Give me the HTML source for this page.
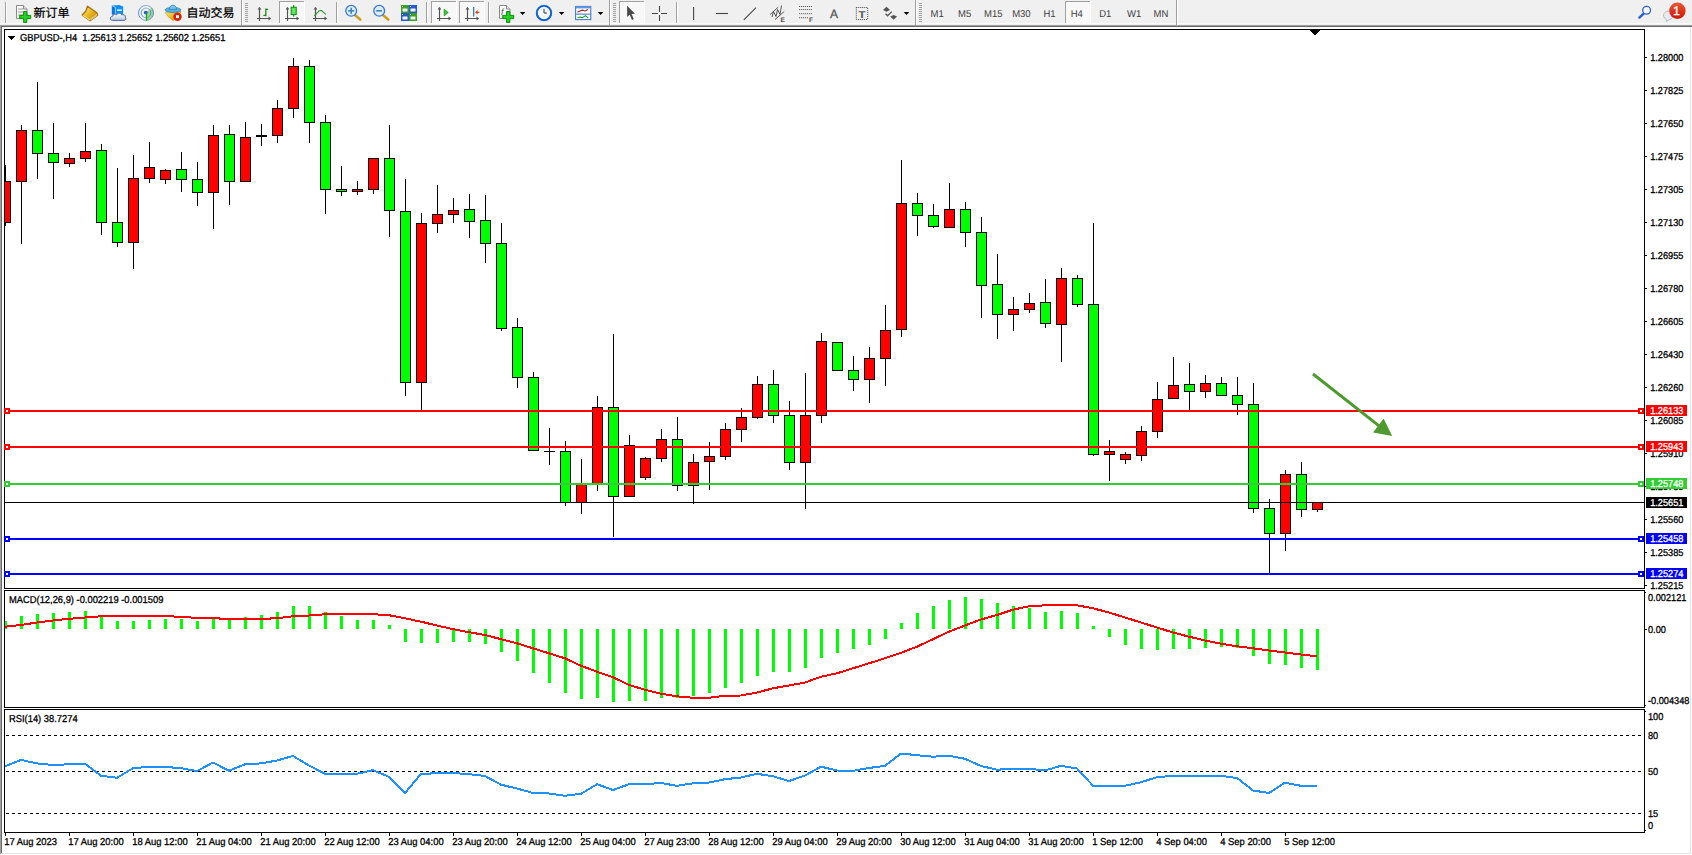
<!DOCTYPE html>
<html><head><meta charset="utf-8"><title>GBPUSD-,H4</title>
<style>
html,body{margin:0;padding:0;background:#fff;overflow:hidden}
svg{display:block;font-family:'Liberation Sans', 'Noto Sans CJK SC', sans-serif}
</style></head>
<body>
<svg width="1692" height="855" viewBox="0 0 1692 855" shape-rendering="crispEdges" text-rendering="geometricPrecision" font-family='"Liberation Sans", "Noto Sans CJK SC", sans-serif'>
<rect x="0" y="0" width="1692" height="855" fill="#fff"/>
<rect x="0" y="0" width="1692" height="25" fill="#f0f0f0"/>
<rect x="0" y="23" width="1692" height="1" fill="#fbfbfb"/>
<rect x="0" y="25" width="1692" height="1" fill="#a0a0a0"/>
<rect x="0" y="26" width="1692" height="1" fill="#696969"/>
<rect x="0" y="26" width="1" height="828" fill="#a0a0a0"/>
<rect x="1" y="27" width="1" height="826" fill="#696969"/>
<rect x="1690" y="27" width="1" height="827" fill="#e3e3e3"/>
<rect x="1" y="853" width="1690" height="1" fill="#e3e3e3"/>
<rect x="4" y="29" width="1641" height="1" fill="#000"/>
<rect x="4" y="588" width="1641" height="1" fill="#000"/>
<rect x="4" y="29" width="1" height="560" fill="#000"/>
<rect x="1644" y="29" width="1" height="560" fill="#000"/>
<rect x="4" y="590" width="1641" height="1" fill="#000"/>
<rect x="4" y="707" width="1641" height="1" fill="#000"/>
<rect x="4" y="590" width="1" height="118" fill="#000"/>
<rect x="1644" y="590" width="1" height="118" fill="#000"/>
<rect x="4" y="709" width="1641" height="1" fill="#000"/>
<rect x="4" y="832" width="1641" height="1" fill="#000"/>
<rect x="4" y="709" width="1" height="124" fill="#000"/>
<rect x="1644" y="709" width="1" height="124" fill="#000"/>
<clipPath id="cm"><rect x="5" y="30" width="1639" height="558"/></clipPath>
<g clip-path="url(#cm)">
<rect x="5" y="165" width="1" height="61" fill="#000"/>
<rect x="0" y="181" width="11" height="42" fill="#000"/>
<rect x="1" y="182" width="9" height="40" fill="#ff0000"/>
<rect x="21" y="125" width="1" height="119" fill="#000"/>
<rect x="16" y="130" width="11" height="52" fill="#000"/>
<rect x="17" y="131" width="9" height="50" fill="#ff0000"/>
<rect x="37" y="82" width="1" height="97" fill="#000"/>
<rect x="32" y="130" width="11" height="24" fill="#000"/>
<rect x="33" y="131" width="9" height="22" fill="#00ff00"/>
<rect x="53" y="123" width="1" height="76" fill="#000"/>
<rect x="48" y="153" width="11" height="10" fill="#000"/>
<rect x="49" y="154" width="9" height="8" fill="#00ff00"/>
<rect x="69" y="153" width="1" height="14" fill="#000"/>
<rect x="64" y="158" width="11" height="6" fill="#000"/>
<rect x="65" y="159" width="9" height="4" fill="#ff0000"/>
<rect x="85" y="123" width="1" height="39" fill="#000"/>
<rect x="80" y="151" width="11" height="8" fill="#000"/>
<rect x="81" y="152" width="9" height="6" fill="#ff0000"/>
<rect x="101" y="144" width="1" height="91" fill="#000"/>
<rect x="96" y="150" width="11" height="73" fill="#000"/>
<rect x="97" y="151" width="9" height="71" fill="#00ff00"/>
<rect x="117" y="168" width="1" height="79" fill="#000"/>
<rect x="112" y="222" width="11" height="21" fill="#000"/>
<rect x="113" y="223" width="9" height="19" fill="#00ff00"/>
<rect x="133" y="155" width="1" height="114" fill="#000"/>
<rect x="128" y="178" width="11" height="65" fill="#000"/>
<rect x="129" y="179" width="9" height="63" fill="#ff0000"/>
<rect x="149" y="142" width="1" height="41" fill="#000"/>
<rect x="144" y="167" width="11" height="12" fill="#000"/>
<rect x="145" y="168" width="9" height="10" fill="#ff0000"/>
<rect x="165" y="169" width="1" height="15" fill="#000"/>
<rect x="160" y="170" width="11" height="10" fill="#000"/>
<rect x="161" y="171" width="9" height="8" fill="#ff0000"/>
<rect x="181" y="152" width="1" height="40" fill="#000"/>
<rect x="176" y="169" width="11" height="11" fill="#000"/>
<rect x="177" y="170" width="9" height="9" fill="#00ff00"/>
<rect x="197" y="162" width="1" height="44" fill="#000"/>
<rect x="192" y="179" width="11" height="14" fill="#000"/>
<rect x="193" y="180" width="9" height="12" fill="#00ff00"/>
<rect x="213" y="125" width="1" height="104" fill="#000"/>
<rect x="208" y="135" width="11" height="58" fill="#000"/>
<rect x="209" y="136" width="9" height="56" fill="#ff0000"/>
<rect x="229" y="125" width="1" height="80" fill="#000"/>
<rect x="224" y="134" width="11" height="48" fill="#000"/>
<rect x="225" y="135" width="9" height="46" fill="#00ff00"/>
<rect x="245" y="122" width="1" height="60" fill="#000"/>
<rect x="240" y="137" width="11" height="45" fill="#000"/>
<rect x="241" y="138" width="9" height="43" fill="#ff0000"/>
<rect x="261" y="124" width="1" height="22" fill="#000"/>
<rect x="256" y="135" width="11" height="2" fill="#000"/>
<rect x="277" y="100" width="1" height="43" fill="#000"/>
<rect x="272" y="108" width="11" height="28" fill="#000"/>
<rect x="273" y="109" width="9" height="26" fill="#ff0000"/>
<rect x="293" y="58" width="1" height="60" fill="#000"/>
<rect x="288" y="66" width="11" height="43" fill="#000"/>
<rect x="289" y="67" width="9" height="41" fill="#ff0000"/>
<rect x="309" y="60" width="1" height="83" fill="#000"/>
<rect x="304" y="66" width="11" height="57" fill="#000"/>
<rect x="305" y="67" width="9" height="55" fill="#00ff00"/>
<rect x="325" y="115" width="1" height="99" fill="#000"/>
<rect x="320" y="122" width="11" height="68" fill="#000"/>
<rect x="321" y="123" width="9" height="66" fill="#00ff00"/>
<rect x="341" y="166" width="1" height="30" fill="#000"/>
<rect x="336" y="189" width="11" height="3" fill="#000"/>
<rect x="337" y="190" width="9" height="1" fill="#00ff00"/>
<rect x="357" y="181" width="1" height="14" fill="#000"/>
<rect x="352" y="189" width="11" height="3" fill="#000"/>
<rect x="353" y="190" width="9" height="1" fill="#ff0000"/>
<rect x="373" y="158" width="1" height="36" fill="#000"/>
<rect x="368" y="158" width="11" height="32" fill="#000"/>
<rect x="369" y="159" width="9" height="30" fill="#ff0000"/>
<rect x="389" y="125" width="1" height="112" fill="#000"/>
<rect x="384" y="158" width="11" height="53" fill="#000"/>
<rect x="385" y="159" width="9" height="51" fill="#00ff00"/>
<rect x="405" y="179" width="1" height="217" fill="#000"/>
<rect x="400" y="211" width="11" height="172" fill="#000"/>
<rect x="401" y="212" width="9" height="170" fill="#00ff00"/>
<rect x="421" y="213" width="1" height="198" fill="#000"/>
<rect x="416" y="223" width="11" height="160" fill="#000"/>
<rect x="417" y="224" width="9" height="158" fill="#ff0000"/>
<rect x="437" y="185" width="1" height="48" fill="#000"/>
<rect x="432" y="214" width="11" height="10" fill="#000"/>
<rect x="433" y="215" width="9" height="8" fill="#ff0000"/>
<rect x="453" y="198" width="1" height="25" fill="#000"/>
<rect x="448" y="210" width="11" height="5" fill="#000"/>
<rect x="449" y="211" width="9" height="3" fill="#ff0000"/>
<rect x="469" y="194" width="1" height="44" fill="#000"/>
<rect x="464" y="209" width="11" height="13" fill="#000"/>
<rect x="465" y="210" width="9" height="11" fill="#00ff00"/>
<rect x="485" y="195" width="1" height="68" fill="#000"/>
<rect x="480" y="220" width="11" height="24" fill="#000"/>
<rect x="481" y="221" width="9" height="22" fill="#00ff00"/>
<rect x="501" y="223" width="1" height="108" fill="#000"/>
<rect x="496" y="243" width="11" height="86" fill="#000"/>
<rect x="497" y="244" width="9" height="84" fill="#00ff00"/>
<rect x="517" y="318" width="1" height="70" fill="#000"/>
<rect x="512" y="327" width="11" height="51" fill="#000"/>
<rect x="513" y="328" width="9" height="49" fill="#00ff00"/>
<rect x="533" y="372" width="1" height="79" fill="#000"/>
<rect x="528" y="377" width="11" height="74" fill="#000"/>
<rect x="529" y="378" width="9" height="72" fill="#00ff00"/>
<rect x="549" y="428" width="1" height="37" fill="#000"/>
<rect x="544" y="451" width="11" height="1" fill="#000"/>
<rect x="565" y="441" width="1" height="65" fill="#000"/>
<rect x="560" y="451" width="11" height="52" fill="#000"/>
<rect x="561" y="452" width="9" height="50" fill="#00ff00"/>
<rect x="581" y="459" width="1" height="55" fill="#000"/>
<rect x="576" y="484" width="11" height="19" fill="#000"/>
<rect x="577" y="485" width="9" height="17" fill="#ff0000"/>
<rect x="597" y="396" width="1" height="95" fill="#000"/>
<rect x="592" y="407" width="11" height="77" fill="#000"/>
<rect x="593" y="408" width="9" height="75" fill="#ff0000"/>
<rect x="613" y="334" width="1" height="203" fill="#000"/>
<rect x="608" y="407" width="11" height="90" fill="#000"/>
<rect x="609" y="408" width="9" height="88" fill="#00ff00"/>
<rect x="629" y="435" width="1" height="62" fill="#000"/>
<rect x="624" y="445" width="11" height="52" fill="#000"/>
<rect x="625" y="446" width="9" height="50" fill="#ff0000"/>
<rect x="645" y="457" width="1" height="23" fill="#000"/>
<rect x="640" y="458" width="11" height="20" fill="#000"/>
<rect x="641" y="459" width="9" height="18" fill="#ff0000"/>
<rect x="661" y="429" width="1" height="33" fill="#000"/>
<rect x="656" y="439" width="11" height="20" fill="#000"/>
<rect x="657" y="440" width="9" height="18" fill="#ff0000"/>
<rect x="677" y="417" width="1" height="74" fill="#000"/>
<rect x="672" y="439" width="11" height="47" fill="#000"/>
<rect x="673" y="440" width="9" height="45" fill="#00ff00"/>
<rect x="693" y="454" width="1" height="50" fill="#000"/>
<rect x="688" y="462" width="11" height="24" fill="#000"/>
<rect x="689" y="463" width="9" height="22" fill="#ff0000"/>
<rect x="709" y="442" width="1" height="48" fill="#000"/>
<rect x="704" y="456" width="11" height="6" fill="#000"/>
<rect x="705" y="457" width="9" height="4" fill="#ff0000"/>
<rect x="725" y="423" width="1" height="37" fill="#000"/>
<rect x="720" y="429" width="11" height="28" fill="#000"/>
<rect x="721" y="430" width="9" height="26" fill="#ff0000"/>
<rect x="741" y="408" width="1" height="34" fill="#000"/>
<rect x="736" y="417" width="11" height="13" fill="#000"/>
<rect x="737" y="418" width="9" height="11" fill="#ff0000"/>
<rect x="757" y="376" width="1" height="43" fill="#000"/>
<rect x="752" y="384" width="11" height="34" fill="#000"/>
<rect x="753" y="385" width="9" height="32" fill="#ff0000"/>
<rect x="773" y="370" width="1" height="53" fill="#000"/>
<rect x="768" y="384" width="11" height="32" fill="#000"/>
<rect x="769" y="385" width="9" height="30" fill="#00ff00"/>
<rect x="789" y="401" width="1" height="69" fill="#000"/>
<rect x="784" y="415" width="11" height="48" fill="#000"/>
<rect x="785" y="416" width="9" height="46" fill="#00ff00"/>
<rect x="805" y="373" width="1" height="136" fill="#000"/>
<rect x="800" y="415" width="11" height="48" fill="#000"/>
<rect x="801" y="416" width="9" height="46" fill="#ff0000"/>
<rect x="821" y="333" width="1" height="90" fill="#000"/>
<rect x="816" y="341" width="11" height="75" fill="#000"/>
<rect x="817" y="342" width="9" height="73" fill="#ff0000"/>
<rect x="837" y="342" width="1" height="29" fill="#000"/>
<rect x="832" y="342" width="11" height="29" fill="#000"/>
<rect x="833" y="343" width="9" height="27" fill="#00ff00"/>
<rect x="853" y="356" width="1" height="35" fill="#000"/>
<rect x="848" y="370" width="11" height="10" fill="#000"/>
<rect x="849" y="371" width="9" height="8" fill="#00ff00"/>
<rect x="869" y="347" width="1" height="56" fill="#000"/>
<rect x="864" y="358" width="11" height="22" fill="#000"/>
<rect x="865" y="359" width="9" height="20" fill="#ff0000"/>
<rect x="885" y="305" width="1" height="81" fill="#000"/>
<rect x="880" y="330" width="11" height="29" fill="#000"/>
<rect x="881" y="331" width="9" height="27" fill="#ff0000"/>
<rect x="901" y="160" width="1" height="177" fill="#000"/>
<rect x="896" y="203" width="11" height="127" fill="#000"/>
<rect x="897" y="204" width="9" height="125" fill="#ff0000"/>
<rect x="917" y="193" width="1" height="43" fill="#000"/>
<rect x="912" y="203" width="11" height="13" fill="#000"/>
<rect x="913" y="204" width="9" height="11" fill="#00ff00"/>
<rect x="933" y="204" width="1" height="24" fill="#000"/>
<rect x="928" y="215" width="11" height="12" fill="#000"/>
<rect x="929" y="216" width="9" height="10" fill="#00ff00"/>
<rect x="949" y="183" width="1" height="45" fill="#000"/>
<rect x="944" y="209" width="11" height="19" fill="#000"/>
<rect x="945" y="210" width="9" height="17" fill="#ff0000"/>
<rect x="965" y="202" width="1" height="45" fill="#000"/>
<rect x="960" y="209" width="11" height="24" fill="#000"/>
<rect x="961" y="210" width="9" height="22" fill="#00ff00"/>
<rect x="981" y="217" width="1" height="101" fill="#000"/>
<rect x="976" y="232" width="11" height="54" fill="#000"/>
<rect x="977" y="233" width="9" height="52" fill="#00ff00"/>
<rect x="997" y="254" width="1" height="85" fill="#000"/>
<rect x="992" y="284" width="11" height="31" fill="#000"/>
<rect x="993" y="285" width="9" height="29" fill="#00ff00"/>
<rect x="1013" y="297" width="1" height="34" fill="#000"/>
<rect x="1008" y="309" width="11" height="6" fill="#000"/>
<rect x="1009" y="310" width="9" height="4" fill="#ff0000"/>
<rect x="1029" y="293" width="1" height="20" fill="#000"/>
<rect x="1024" y="303" width="11" height="7" fill="#000"/>
<rect x="1025" y="304" width="9" height="5" fill="#ff0000"/>
<rect x="1045" y="279" width="1" height="49" fill="#000"/>
<rect x="1040" y="302" width="11" height="22" fill="#000"/>
<rect x="1041" y="303" width="9" height="20" fill="#00ff00"/>
<rect x="1061" y="268" width="1" height="94" fill="#000"/>
<rect x="1056" y="278" width="11" height="47" fill="#000"/>
<rect x="1057" y="279" width="9" height="45" fill="#ff0000"/>
<rect x="1077" y="275" width="1" height="32" fill="#000"/>
<rect x="1072" y="278" width="11" height="27" fill="#000"/>
<rect x="1073" y="279" width="9" height="25" fill="#00ff00"/>
<rect x="1093" y="223" width="1" height="233" fill="#000"/>
<rect x="1088" y="304" width="11" height="151" fill="#000"/>
<rect x="1089" y="305" width="9" height="149" fill="#00ff00"/>
<rect x="1109" y="440" width="1" height="41" fill="#000"/>
<rect x="1104" y="451" width="11" height="4" fill="#000"/>
<rect x="1105" y="452" width="9" height="2" fill="#ff0000"/>
<rect x="1125" y="452" width="1" height="12" fill="#000"/>
<rect x="1120" y="454" width="11" height="6" fill="#000"/>
<rect x="1121" y="455" width="9" height="4" fill="#ff0000"/>
<rect x="1141" y="426" width="1" height="35" fill="#000"/>
<rect x="1136" y="431" width="11" height="25" fill="#000"/>
<rect x="1137" y="432" width="9" height="23" fill="#ff0000"/>
<rect x="1157" y="382" width="1" height="56" fill="#000"/>
<rect x="1152" y="399" width="11" height="33" fill="#000"/>
<rect x="1153" y="400" width="9" height="31" fill="#ff0000"/>
<rect x="1173" y="357" width="1" height="42" fill="#000"/>
<rect x="1168" y="385" width="11" height="14" fill="#000"/>
<rect x="1169" y="386" width="9" height="12" fill="#ff0000"/>
<rect x="1189" y="363" width="1" height="48" fill="#000"/>
<rect x="1184" y="384" width="11" height="8" fill="#000"/>
<rect x="1185" y="385" width="9" height="6" fill="#00ff00"/>
<rect x="1205" y="375" width="1" height="23" fill="#000"/>
<rect x="1200" y="383" width="11" height="9" fill="#000"/>
<rect x="1201" y="384" width="9" height="7" fill="#ff0000"/>
<rect x="1221" y="377" width="1" height="19" fill="#000"/>
<rect x="1216" y="383" width="11" height="13" fill="#000"/>
<rect x="1217" y="384" width="9" height="11" fill="#00ff00"/>
<rect x="1237" y="377" width="1" height="38" fill="#000"/>
<rect x="1232" y="395" width="11" height="10" fill="#000"/>
<rect x="1233" y="396" width="9" height="8" fill="#00ff00"/>
<rect x="1253" y="383" width="1" height="130" fill="#000"/>
<rect x="1248" y="404" width="11" height="105" fill="#000"/>
<rect x="1249" y="405" width="9" height="103" fill="#00ff00"/>
<rect x="1269" y="499" width="1" height="75" fill="#000"/>
<rect x="1264" y="508" width="11" height="26" fill="#000"/>
<rect x="1265" y="509" width="9" height="24" fill="#00ff00"/>
<rect x="1285" y="470" width="1" height="81" fill="#000"/>
<rect x="1280" y="474" width="11" height="60" fill="#000"/>
<rect x="1281" y="475" width="9" height="58" fill="#ff0000"/>
<rect x="1301" y="462" width="1" height="55" fill="#000"/>
<rect x="1296" y="474" width="11" height="36" fill="#000"/>
<rect x="1297" y="475" width="9" height="34" fill="#00ff00"/>
<rect x="1317" y="502" width="1" height="10" fill="#000"/>
<rect x="1312" y="502" width="11" height="8" fill="#000"/>
<rect x="1313" y="503" width="9" height="6" fill="#ff0000"/>
</g>
<rect x="5" y="410" width="1639" height="2" fill="#ff0000"/>
<rect x="4" y="408" width="6" height="6" fill="#ff0000"/>
<rect x="6" y="410" width="2" height="2" fill="#fff"/>
<rect x="1638" y="408" width="6" height="6" fill="#ff0000"/>
<rect x="1640" y="410" width="2" height="2" fill="#fff"/>
<rect x="5" y="446" width="1639" height="2" fill="#ff0000"/>
<rect x="4" y="444" width="6" height="6" fill="#ff0000"/>
<rect x="6" y="446" width="2" height="2" fill="#fff"/>
<rect x="1638" y="444" width="6" height="6" fill="#ff0000"/>
<rect x="1640" y="446" width="2" height="2" fill="#fff"/>
<rect x="5" y="483" width="1639" height="2" fill="#32cd32"/>
<rect x="4" y="481" width="6" height="6" fill="#32cd32"/>
<rect x="6" y="483" width="2" height="2" fill="#fff"/>
<rect x="1638" y="481" width="6" height="6" fill="#32cd32"/>
<rect x="1640" y="483" width="2" height="2" fill="#fff"/>
<rect x="5" y="502" width="1639" height="1" fill="#000"/>
<rect x="5" y="538" width="1639" height="2" fill="#0000ff"/>
<rect x="4" y="536" width="6" height="6" fill="#0000ff"/>
<rect x="6" y="538" width="2" height="2" fill="#fff"/>
<rect x="1638" y="536" width="6" height="6" fill="#0000ff"/>
<rect x="1640" y="538" width="2" height="2" fill="#fff"/>
<rect x="5" y="573" width="1639" height="2" fill="#0000ff"/>
<rect x="4" y="571" width="6" height="6" fill="#0000ff"/>
<rect x="6" y="573" width="2" height="2" fill="#fff"/>
<rect x="1638" y="571" width="6" height="6" fill="#0000ff"/>
<rect x="1640" y="573" width="2" height="2" fill="#fff"/>
<g shape-rendering="geometricPrecision">
<line x1="1313" y1="374" x2="1380" y2="426.6" stroke="#4e9a2e" stroke-width="3"/>
<polygon points="1392.2,436.1 1383.6,418.6 1373,432.6" fill="#4e9a2e"/>
</g>
<polygon points="1309,30 1320,30 1314.5,35.5" fill="#000"/>
<polygon points="8,36 15,36 11.5,40" fill="#000"/>
<rect x="1645" y="57" width="2" height="1" fill="#000"/>
<text transform="translate(1650.2,61) scale(0.92,1)" font-size="10" fill="#000" stroke="#000" stroke-width="0.3" text-anchor="start">1.28000</text>
<rect x="1645" y="90" width="2" height="1" fill="#000"/>
<text transform="translate(1650.2,94) scale(0.92,1)" font-size="10" fill="#000" stroke="#000" stroke-width="0.3" text-anchor="start">1.27825</text>
<rect x="1645" y="123" width="2" height="1" fill="#000"/>
<text transform="translate(1650.2,127) scale(0.92,1)" font-size="10" fill="#000" stroke="#000" stroke-width="0.3" text-anchor="start">1.27650</text>
<rect x="1645" y="156" width="2" height="1" fill="#000"/>
<text transform="translate(1650.2,160) scale(0.92,1)" font-size="10" fill="#000" stroke="#000" stroke-width="0.3" text-anchor="start">1.27475</text>
<rect x="1645" y="189" width="2" height="1" fill="#000"/>
<text transform="translate(1650.2,193) scale(0.92,1)" font-size="10" fill="#000" stroke="#000" stroke-width="0.3" text-anchor="start">1.27305</text>
<rect x="1645" y="222" width="2" height="1" fill="#000"/>
<text transform="translate(1650.2,226) scale(0.92,1)" font-size="10" fill="#000" stroke="#000" stroke-width="0.3" text-anchor="start">1.27130</text>
<rect x="1645" y="255" width="2" height="1" fill="#000"/>
<text transform="translate(1650.2,259) scale(0.92,1)" font-size="10" fill="#000" stroke="#000" stroke-width="0.3" text-anchor="start">1.26955</text>
<rect x="1645" y="288" width="2" height="1" fill="#000"/>
<text transform="translate(1650.2,292) scale(0.92,1)" font-size="10" fill="#000" stroke="#000" stroke-width="0.3" text-anchor="start">1.26780</text>
<rect x="1645" y="321" width="2" height="1" fill="#000"/>
<text transform="translate(1650.2,325) scale(0.92,1)" font-size="10" fill="#000" stroke="#000" stroke-width="0.3" text-anchor="start">1.26605</text>
<rect x="1645" y="354" width="2" height="1" fill="#000"/>
<text transform="translate(1650.2,358) scale(0.92,1)" font-size="10" fill="#000" stroke="#000" stroke-width="0.3" text-anchor="start">1.26430</text>
<rect x="1645" y="387" width="2" height="1" fill="#000"/>
<text transform="translate(1650.2,391) scale(0.92,1)" font-size="10" fill="#000" stroke="#000" stroke-width="0.3" text-anchor="start">1.26260</text>
<rect x="1645" y="420" width="2" height="1" fill="#000"/>
<text transform="translate(1650.2,424) scale(0.92,1)" font-size="10" fill="#000" stroke="#000" stroke-width="0.3" text-anchor="start">1.26085</text>
<rect x="1645" y="453" width="2" height="1" fill="#000"/>
<text transform="translate(1650.2,457) scale(0.92,1)" font-size="10" fill="#000" stroke="#000" stroke-width="0.3" text-anchor="start">1.25910</text>
<rect x="1645" y="486" width="2" height="1" fill="#000"/>
<text transform="translate(1650.2,490) scale(0.92,1)" font-size="10" fill="#000" stroke="#000" stroke-width="0.3" text-anchor="start">1.25735</text>
<rect x="1645" y="519" width="2" height="1" fill="#000"/>
<text transform="translate(1650.2,523) scale(0.92,1)" font-size="10" fill="#000" stroke="#000" stroke-width="0.3" text-anchor="start">1.25560</text>
<rect x="1645" y="552" width="2" height="1" fill="#000"/>
<text transform="translate(1650.2,556) scale(0.92,1)" font-size="10" fill="#000" stroke="#000" stroke-width="0.3" text-anchor="start">1.25385</text>
<rect x="1645" y="585" width="2" height="1" fill="#000"/>
<text transform="translate(1650.2,589) scale(0.92,1)" font-size="10" fill="#000" stroke="#000" stroke-width="0.3" text-anchor="start">1.25215</text>
<rect x="1646" y="405" width="41" height="11" fill="#ff0000"/>
<text transform="translate(1650.2,414) scale(0.92,1)" font-size="10" fill="#fff" stroke="#fff" stroke-width="0.3" text-anchor="start">1.26133</text>
<rect x="1646" y="441" width="41" height="11" fill="#ff0000"/>
<text transform="translate(1650.2,450) scale(0.92,1)" font-size="10" fill="#fff" stroke="#fff" stroke-width="0.3" text-anchor="start">1.25943</text>
<rect x="1646" y="478" width="41" height="11" fill="#32cd32"/>
<text transform="translate(1650.2,487) scale(0.92,1)" font-size="10" fill="#fff" stroke="#fff" stroke-width="0.3" text-anchor="start">1.25748</text>
<rect x="1646" y="497" width="41" height="11" fill="#000000"/>
<text transform="translate(1650.2,506) scale(0.92,1)" font-size="10" fill="#fff" stroke="#fff" stroke-width="0.3" text-anchor="start">1.25651</text>
<rect x="1646" y="533" width="41" height="11" fill="#0000ff"/>
<text transform="translate(1650.2,542) scale(0.92,1)" font-size="10" fill="#fff" stroke="#fff" stroke-width="0.3" text-anchor="start">1.25458</text>
<rect x="1646" y="568" width="41" height="11" fill="#0000ff"/>
<text transform="translate(1650.2,577) scale(0.92,1)" font-size="10" fill="#fff" stroke="#fff" stroke-width="0.3" text-anchor="start">1.25274</text>
<text transform="translate(20,41) scale(0.935,1)" font-size="10" fill="#000" stroke="#000" stroke-width="0.3" text-anchor="start">GBPUSD-,H4&#160; 1.25613 1.25652 1.25602 1.25651</text>
<text transform="translate(9,603) scale(0.935,1)" font-size="10" fill="#000" stroke="#000" stroke-width="0.3" text-anchor="start">MACD(12,26,9) -0.002219 -0.001509</text>
<text transform="translate(9,722) scale(0.935,1)" font-size="10" fill="#000" stroke="#000" stroke-width="0.3" text-anchor="start">RSI(14) 38.7274</text>
<rect x="5" y="621" width="2" height="8" fill="#00ff00"/>
<rect x="20" y="616" width="3" height="13" fill="#00ff00"/>
<rect x="36" y="614" width="3" height="15" fill="#00ff00"/>
<rect x="52" y="613" width="3" height="16" fill="#00ff00"/>
<rect x="68" y="612" width="3" height="17" fill="#00ff00"/>
<rect x="84" y="611" width="3" height="18" fill="#00ff00"/>
<rect x="100" y="617" width="3" height="12" fill="#00ff00"/>
<rect x="116" y="621" width="3" height="8" fill="#00ff00"/>
<rect x="132" y="621" width="3" height="8" fill="#00ff00"/>
<rect x="148" y="620" width="3" height="9" fill="#00ff00"/>
<rect x="164" y="619" width="3" height="10" fill="#00ff00"/>
<rect x="180" y="619" width="3" height="10" fill="#00ff00"/>
<rect x="196" y="621" width="3" height="8" fill="#00ff00"/>
<rect x="212" y="618" width="3" height="11" fill="#00ff00"/>
<rect x="228" y="618" width="3" height="11" fill="#00ff00"/>
<rect x="244" y="617" width="3" height="12" fill="#00ff00"/>
<rect x="260" y="615" width="3" height="14" fill="#00ff00"/>
<rect x="276" y="612" width="3" height="17" fill="#00ff00"/>
<rect x="292" y="606" width="3" height="23" fill="#00ff00"/>
<rect x="308" y="606" width="3" height="23" fill="#00ff00"/>
<rect x="324" y="612" width="3" height="17" fill="#00ff00"/>
<rect x="340" y="616" width="3" height="13" fill="#00ff00"/>
<rect x="356" y="620" width="3" height="9" fill="#00ff00"/>
<rect x="372" y="620" width="3" height="9" fill="#00ff00"/>
<rect x="388" y="625" width="3" height="4" fill="#00ff00"/>
<rect x="404" y="629" width="3" height="13" fill="#00ff00"/>
<rect x="420" y="629" width="3" height="14" fill="#00ff00"/>
<rect x="436" y="629" width="3" height="14" fill="#00ff00"/>
<rect x="452" y="629" width="3" height="13" fill="#00ff00"/>
<rect x="468" y="629" width="3" height="13" fill="#00ff00"/>
<rect x="484" y="629" width="3" height="15" fill="#00ff00"/>
<rect x="500" y="629" width="3" height="23" fill="#00ff00"/>
<rect x="516" y="629" width="3" height="32" fill="#00ff00"/>
<rect x="532" y="629" width="3" height="44" fill="#00ff00"/>
<rect x="548" y="629" width="3" height="54" fill="#00ff00"/>
<rect x="564" y="629" width="3" height="64" fill="#00ff00"/>
<rect x="580" y="629" width="3" height="70" fill="#00ff00"/>
<rect x="596" y="629" width="3" height="69" fill="#00ff00"/>
<rect x="612" y="629" width="3" height="73" fill="#00ff00"/>
<rect x="628" y="629" width="3" height="72" fill="#00ff00"/>
<rect x="644" y="629" width="3" height="72" fill="#00ff00"/>
<rect x="660" y="629" width="3" height="69" fill="#00ff00"/>
<rect x="676" y="629" width="3" height="69" fill="#00ff00"/>
<rect x="692" y="629" width="3" height="67" fill="#00ff00"/>
<rect x="708" y="629" width="3" height="64" fill="#00ff00"/>
<rect x="724" y="629" width="3" height="59" fill="#00ff00"/>
<rect x="740" y="629" width="3" height="54" fill="#00ff00"/>
<rect x="756" y="629" width="3" height="47" fill="#00ff00"/>
<rect x="772" y="629" width="3" height="43" fill="#00ff00"/>
<rect x="788" y="629" width="3" height="43" fill="#00ff00"/>
<rect x="804" y="629" width="3" height="39" fill="#00ff00"/>
<rect x="820" y="629" width="3" height="29" fill="#00ff00"/>
<rect x="836" y="629" width="3" height="24" fill="#00ff00"/>
<rect x="852" y="629" width="3" height="20" fill="#00ff00"/>
<rect x="868" y="629" width="3" height="16" fill="#00ff00"/>
<rect x="884" y="629" width="3" height="10" fill="#00ff00"/>
<rect x="900" y="623" width="3" height="6" fill="#00ff00"/>
<rect x="916" y="613" width="3" height="16" fill="#00ff00"/>
<rect x="932" y="606" width="3" height="23" fill="#00ff00"/>
<rect x="948" y="600" width="3" height="29" fill="#00ff00"/>
<rect x="964" y="597" width="3" height="32" fill="#00ff00"/>
<rect x="980" y="599" width="3" height="30" fill="#00ff00"/>
<rect x="996" y="603" width="3" height="26" fill="#00ff00"/>
<rect x="1012" y="606" width="3" height="23" fill="#00ff00"/>
<rect x="1028" y="608" width="3" height="21" fill="#00ff00"/>
<rect x="1044" y="612" width="3" height="17" fill="#00ff00"/>
<rect x="1060" y="611" width="3" height="18" fill="#00ff00"/>
<rect x="1076" y="613" width="3" height="16" fill="#00ff00"/>
<rect x="1092" y="626" width="3" height="3" fill="#00ff00"/>
<rect x="1108" y="629" width="3" height="8" fill="#00ff00"/>
<rect x="1124" y="629" width="3" height="16" fill="#00ff00"/>
<rect x="1140" y="629" width="3" height="20" fill="#00ff00"/>
<rect x="1156" y="629" width="3" height="21" fill="#00ff00"/>
<rect x="1172" y="629" width="3" height="20" fill="#00ff00"/>
<rect x="1188" y="629" width="3" height="20" fill="#00ff00"/>
<rect x="1204" y="629" width="3" height="19" fill="#00ff00"/>
<rect x="1220" y="629" width="3" height="18" fill="#00ff00"/>
<rect x="1236" y="629" width="3" height="19" fill="#00ff00"/>
<rect x="1252" y="629" width="3" height="27" fill="#00ff00"/>
<rect x="1268" y="629" width="3" height="35" fill="#00ff00"/>
<rect x="1284" y="629" width="3" height="36" fill="#00ff00"/>
<rect x="1300" y="629" width="3" height="39" fill="#00ff00"/>
<rect x="1316" y="629" width="3" height="41" fill="#00ff00"/>
<polyline points="5,626.7 21,625.0 37,622.5 53,620.5 69,618.8 85,617.5 101,616.3 117,615.8 133,615.8 149,615.8 165,615.8 181,617.0 197,617.8 213,618.3 229,618.8 245,618.8 261,618.8 277,618.3 293,616.3 309,615.5 325,614.3 341,614.2 357,614.2 373,614.2 389,615.2 405,618.3 421,621.7 437,625.5 453,629.2 469,632.2 485,635.0 501,639.2 517,643.3 533,648.3 549,653.3 565,658.3 581,665.8 597,671.7 613,677.2 629,685.0 645,689.7 661,693.7 677,696.3 693,697.8 709,697.8 725,695.8 741,695.5 757,692.5 773,688.3 789,685.5 805,682.5 821,676.7 837,673.3 853,668.3 869,663.3 885,658.3 901,652.8 917,646.7 933,639.2 949,631.7 965,625.5 981,619.5 997,615.0 1013,609.7 1029,606.3 1045,605.3 1061,605.0 1077,605.3 1093,608.3 1109,612.5 1125,617.5 1141,622.5 1157,627.5 1173,632.5 1189,636.7 1205,640.5 1221,643.7 1237,646.3 1253,648.3 1269,650.5 1285,652.5 1301,654.5 1317,656.2" fill="none" stroke="#ff0000" stroke-width="2"/>
<rect x="1645" y="629" width="2" height="1" fill="#000"/>
<text transform="translate(1648,601) scale(0.92,1)" font-size="10" fill="#000" stroke="#000" stroke-width="0.3" text-anchor="start">0.002121</text>
<text transform="translate(1648,633) scale(0.92,1)" font-size="10" fill="#000" stroke="#000" stroke-width="0.3" text-anchor="start">0.00</text>
<text transform="translate(1648,704) scale(0.92,1)" font-size="10" fill="#000" stroke="#000" stroke-width="0.3" text-anchor="start">-0.004348</text>
<rect x="1645" y="592" width="1" height="1" fill="#000"/>
<rect x="1645" y="705" width="1" height="1" fill="#000"/>
<rect x="1645" y="711" width="1" height="1" fill="#000"/>
<rect x="1645" y="830" width="1" height="1" fill="#000"/>
<line x1="6" y1="735.5" x2="1644" y2="735.5" stroke="#000" stroke-width="1" stroke-dasharray="3 3"/>
<line x1="6" y1="771.5" x2="1644" y2="771.5" stroke="#000" stroke-width="1" stroke-dasharray="3 3"/>
<line x1="6" y1="813.5" x2="1644" y2="813.5" stroke="#000" stroke-width="1" stroke-dasharray="3 3"/>
<polyline points="5,766.4 21,759.9 37,763.4 53,765.0 69,764.3 85,763.8 101,775.7 117,777.8 133,768.2 149,766.8 165,766.9 181,768.2 197,771.1 213,762.5 229,770.8 245,764.3 261,763.4 277,760.5 293,756.0 309,765.5 325,773.8 341,773.8 357,773.8 373,770.2 389,776.8 405,793.0 421,773.8 437,773.3 453,773.0 469,774.2 485,776.0 501,784.7 517,788.5 533,793.0 549,793.5 565,795.8 581,793.8 597,784.2 613,790.0 629,784.2 645,784.2 661,783.0 677,785.8 693,783.3 709,782.5 725,779.2 741,777.5 757,773.8 773,776.3 789,781.0 805,775.5 821,766.7 837,770.5 853,770.8 869,768.0 885,765.8 901,753.5 917,755.2 933,756.7 949,755.8 965,758.8 981,766.0 997,769.7 1013,768.8 1029,768.8 1045,770.5 1061,765.8 1077,768.5 1093,785.8 1109,785.8 1125,785.8 1141,782.2 1157,777.2 1173,775.8 1189,775.8 1205,775.8 1221,775.8 1237,778.0 1253,790.5 1269,793.0 1285,782.7 1301,785.8 1317,785.8" fill="none" stroke="#1e90ff" stroke-width="2"/>
<text transform="translate(1648,720) scale(0.92,1)" font-size="10" fill="#000" stroke="#000" stroke-width="0.3" text-anchor="start">100</text>
<text transform="translate(1648,739) scale(0.92,1)" font-size="10" fill="#000" stroke="#000" stroke-width="0.3" text-anchor="start">80</text>
<text transform="translate(1648,775) scale(0.92,1)" font-size="10" fill="#000" stroke="#000" stroke-width="0.3" text-anchor="start">50</text>
<text transform="translate(1648,817) scale(0.92,1)" font-size="10" fill="#000" stroke="#000" stroke-width="0.3" text-anchor="start">15</text>
<text transform="translate(1648,829) scale(0.92,1)" font-size="10" fill="#000" stroke="#000" stroke-width="0.3" text-anchor="start">0</text>
<rect x="5" y="833" width="1" height="3" fill="#000"/>
<text transform="translate(4.2,845) scale(0.94,1)" font-size="10" fill="#000" stroke="#000" stroke-width="0.3" text-anchor="start">17 Aug 2023</text>
<rect x="69" y="833" width="1" height="3" fill="#000"/>
<text transform="translate(68.2,845) scale(0.94,1)" font-size="10" fill="#000" stroke="#000" stroke-width="0.3" text-anchor="start">17 Aug 20:00</text>
<rect x="133" y="833" width="1" height="3" fill="#000"/>
<text transform="translate(132.2,845) scale(0.94,1)" font-size="10" fill="#000" stroke="#000" stroke-width="0.3" text-anchor="start">18 Aug 12:00</text>
<rect x="197" y="833" width="1" height="3" fill="#000"/>
<text transform="translate(196.2,845) scale(0.94,1)" font-size="10" fill="#000" stroke="#000" stroke-width="0.3" text-anchor="start">21 Aug 04:00</text>
<rect x="261" y="833" width="1" height="3" fill="#000"/>
<text transform="translate(260.2,845) scale(0.94,1)" font-size="10" fill="#000" stroke="#000" stroke-width="0.3" text-anchor="start">21 Aug 20:00</text>
<rect x="325" y="833" width="1" height="3" fill="#000"/>
<text transform="translate(324.2,845) scale(0.94,1)" font-size="10" fill="#000" stroke="#000" stroke-width="0.3" text-anchor="start">22 Aug 12:00</text>
<rect x="389" y="833" width="1" height="3" fill="#000"/>
<text transform="translate(388.2,845) scale(0.94,1)" font-size="10" fill="#000" stroke="#000" stroke-width="0.3" text-anchor="start">23 Aug 04:00</text>
<rect x="453" y="833" width="1" height="3" fill="#000"/>
<text transform="translate(452.2,845) scale(0.94,1)" font-size="10" fill="#000" stroke="#000" stroke-width="0.3" text-anchor="start">23 Aug 20:00</text>
<rect x="517" y="833" width="1" height="3" fill="#000"/>
<text transform="translate(516.2,845) scale(0.94,1)" font-size="10" fill="#000" stroke="#000" stroke-width="0.3" text-anchor="start">24 Aug 12:00</text>
<rect x="581" y="833" width="1" height="3" fill="#000"/>
<text transform="translate(580.2,845) scale(0.94,1)" font-size="10" fill="#000" stroke="#000" stroke-width="0.3" text-anchor="start">25 Aug 04:00</text>
<rect x="645" y="833" width="1" height="3" fill="#000"/>
<text transform="translate(644.2,845) scale(0.94,1)" font-size="10" fill="#000" stroke="#000" stroke-width="0.3" text-anchor="start">27 Aug 23:00</text>
<rect x="709" y="833" width="1" height="3" fill="#000"/>
<text transform="translate(708.2,845) scale(0.94,1)" font-size="10" fill="#000" stroke="#000" stroke-width="0.3" text-anchor="start">28 Aug 12:00</text>
<rect x="773" y="833" width="1" height="3" fill="#000"/>
<text transform="translate(772.2,845) scale(0.94,1)" font-size="10" fill="#000" stroke="#000" stroke-width="0.3" text-anchor="start">29 Aug 04:00</text>
<rect x="837" y="833" width="1" height="3" fill="#000"/>
<text transform="translate(836.2,845) scale(0.94,1)" font-size="10" fill="#000" stroke="#000" stroke-width="0.3" text-anchor="start">29 Aug 20:00</text>
<rect x="901" y="833" width="1" height="3" fill="#000"/>
<text transform="translate(900.2,845) scale(0.94,1)" font-size="10" fill="#000" stroke="#000" stroke-width="0.3" text-anchor="start">30 Aug 12:00</text>
<rect x="965" y="833" width="1" height="3" fill="#000"/>
<text transform="translate(964.2,845) scale(0.94,1)" font-size="10" fill="#000" stroke="#000" stroke-width="0.3" text-anchor="start">31 Aug 04:00</text>
<rect x="1029" y="833" width="1" height="3" fill="#000"/>
<text transform="translate(1028.2,845) scale(0.94,1)" font-size="10" fill="#000" stroke="#000" stroke-width="0.3" text-anchor="start">31 Aug 20:00</text>
<rect x="1093" y="833" width="1" height="3" fill="#000"/>
<text transform="translate(1092.2,845) scale(0.94,1)" font-size="10" fill="#000" stroke="#000" stroke-width="0.3" text-anchor="start">1 Sep 12:00</text>
<rect x="1157" y="833" width="1" height="3" fill="#000"/>
<text transform="translate(1156.2,845) scale(0.94,1)" font-size="10" fill="#000" stroke="#000" stroke-width="0.3" text-anchor="start">4 Sep 04:00</text>
<rect x="1221" y="833" width="1" height="3" fill="#000"/>
<text transform="translate(1220.2,845) scale(0.94,1)" font-size="10" fill="#000" stroke="#000" stroke-width="0.3" text-anchor="start">4 Sep 20:00</text>
<rect x="1285" y="833" width="1" height="3" fill="#000"/>
<text transform="translate(1284.2,845) scale(0.94,1)" font-size="10" fill="#000" stroke="#000" stroke-width="0.3" text-anchor="start">5 Sep 12:00</text>
<g shape-rendering="geometricPrecision">
<rect x="5" y="2" width="1" height="21" fill="#a0a0a0" shape-rendering="crispEdges"/>
<rect x="6" y="2" width="1" height="21" fill="#fff" shape-rendering="crispEdges"/>
<rect x="241" y="0" width="1" height="25" fill="#a0a0a0" shape-rendering="crispEdges"/>
<rect x="242" y="0" width="1" height="25" fill="#fff" shape-rendering="crispEdges"/>
<rect x="245" y="3" width="3" height="1" fill="#a0a0a0" shape-rendering="crispEdges"/>
<rect x="245" y="5" width="3" height="1" fill="#a0a0a0" shape-rendering="crispEdges"/>
<rect x="245" y="7" width="3" height="1" fill="#a0a0a0" shape-rendering="crispEdges"/>
<rect x="245" y="9" width="3" height="1" fill="#a0a0a0" shape-rendering="crispEdges"/>
<rect x="245" y="11" width="3" height="1" fill="#a0a0a0" shape-rendering="crispEdges"/>
<rect x="245" y="13" width="3" height="1" fill="#a0a0a0" shape-rendering="crispEdges"/>
<rect x="245" y="15" width="3" height="1" fill="#a0a0a0" shape-rendering="crispEdges"/>
<rect x="245" y="17" width="3" height="1" fill="#a0a0a0" shape-rendering="crispEdges"/>
<rect x="245" y="19" width="3" height="1" fill="#a0a0a0" shape-rendering="crispEdges"/>
<rect x="245" y="21" width="3" height="1" fill="#a0a0a0" shape-rendering="crispEdges"/>
<rect x="609" y="0" width="1" height="25" fill="#a0a0a0" shape-rendering="crispEdges"/>
<rect x="610" y="0" width="1" height="25" fill="#fff" shape-rendering="crispEdges"/>
<rect x="613" y="3" width="3" height="1" fill="#a0a0a0" shape-rendering="crispEdges"/>
<rect x="613" y="5" width="3" height="1" fill="#a0a0a0" shape-rendering="crispEdges"/>
<rect x="613" y="7" width="3" height="1" fill="#a0a0a0" shape-rendering="crispEdges"/>
<rect x="613" y="9" width="3" height="1" fill="#a0a0a0" shape-rendering="crispEdges"/>
<rect x="613" y="11" width="3" height="1" fill="#a0a0a0" shape-rendering="crispEdges"/>
<rect x="613" y="13" width="3" height="1" fill="#a0a0a0" shape-rendering="crispEdges"/>
<rect x="613" y="15" width="3" height="1" fill="#a0a0a0" shape-rendering="crispEdges"/>
<rect x="613" y="17" width="3" height="1" fill="#a0a0a0" shape-rendering="crispEdges"/>
<rect x="613" y="19" width="3" height="1" fill="#a0a0a0" shape-rendering="crispEdges"/>
<rect x="613" y="21" width="3" height="1" fill="#a0a0a0" shape-rendering="crispEdges"/>
<rect x="915" y="0" width="1" height="25" fill="#a0a0a0" shape-rendering="crispEdges"/>
<rect x="916" y="0" width="1" height="25" fill="#fff" shape-rendering="crispEdges"/>
<rect x="919" y="3" width="3" height="1" fill="#a0a0a0" shape-rendering="crispEdges"/>
<rect x="919" y="5" width="3" height="1" fill="#a0a0a0" shape-rendering="crispEdges"/>
<rect x="919" y="7" width="3" height="1" fill="#a0a0a0" shape-rendering="crispEdges"/>
<rect x="919" y="9" width="3" height="1" fill="#a0a0a0" shape-rendering="crispEdges"/>
<rect x="919" y="11" width="3" height="1" fill="#a0a0a0" shape-rendering="crispEdges"/>
<rect x="919" y="13" width="3" height="1" fill="#a0a0a0" shape-rendering="crispEdges"/>
<rect x="919" y="15" width="3" height="1" fill="#a0a0a0" shape-rendering="crispEdges"/>
<rect x="919" y="17" width="3" height="1" fill="#a0a0a0" shape-rendering="crispEdges"/>
<rect x="919" y="19" width="3" height="1" fill="#a0a0a0" shape-rendering="crispEdges"/>
<rect x="919" y="21" width="3" height="1" fill="#a0a0a0" shape-rendering="crispEdges"/>
<rect x="1176" y="0" width="1" height="25" fill="#a0a0a0" shape-rendering="crispEdges"/>
<rect x="1177" y="0" width="1" height="25" fill="#fff" shape-rendering="crispEdges"/>
<rect x="336" y="2" width="1" height="21" fill="#a0a0a0" shape-rendering="crispEdges"/>
<rect x="337" y="2" width="1" height="21" fill="#fff" shape-rendering="crispEdges"/>
<rect x="426" y="2" width="1" height="21" fill="#a0a0a0" shape-rendering="crispEdges"/>
<rect x="427" y="2" width="1" height="21" fill="#fff" shape-rendering="crispEdges"/>
<rect x="488" y="2" width="1" height="21" fill="#a0a0a0" shape-rendering="crispEdges"/>
<rect x="489" y="2" width="1" height="21" fill="#fff" shape-rendering="crispEdges"/>
<rect x="676" y="2" width="1" height="21" fill="#a0a0a0" shape-rendering="crispEdges"/>
<rect x="677" y="2" width="1" height="21" fill="#fff" shape-rendering="crispEdges"/>
<g shape-rendering="crispEdges"><rect x="279" y="1" width="25" height="22" fill="#f8f8f8"/><rect x="279" y="1" width="25" height="1" fill="#a0a0a0"/><rect x="279" y="1" width="1" height="22" fill="#a0a0a0"/><rect x="279" y="23" width="26" height="1" fill="#fff"/><rect x="304" y="1" width="1" height="23" fill="#fff"/></g>
<g shape-rendering="crispEdges"><rect x="431" y="1" width="25" height="22" fill="#f8f8f8"/><rect x="431" y="1" width="25" height="1" fill="#a0a0a0"/><rect x="431" y="1" width="1" height="22" fill="#a0a0a0"/><rect x="431" y="23" width="26" height="1" fill="#fff"/><rect x="456" y="1" width="1" height="23" fill="#fff"/></g>
<g shape-rendering="crispEdges"><rect x="459" y="1" width="25" height="22" fill="#f8f8f8"/><rect x="459" y="1" width="25" height="1" fill="#a0a0a0"/><rect x="459" y="1" width="1" height="22" fill="#a0a0a0"/><rect x="459" y="23" width="26" height="1" fill="#fff"/><rect x="484" y="1" width="1" height="23" fill="#fff"/></g>
<g shape-rendering="crispEdges"><rect x="619" y="1" width="25" height="22" fill="#f8f8f8"/><rect x="619" y="1" width="25" height="1" fill="#a0a0a0"/><rect x="619" y="1" width="1" height="22" fill="#a0a0a0"/><rect x="619" y="23" width="26" height="1" fill="#fff"/><rect x="644" y="1" width="1" height="23" fill="#fff"/></g>
<g shape-rendering="crispEdges"><rect x="1065" y="1" width="25" height="22" fill="#f8f8f8"/><rect x="1065" y="1" width="25" height="1" fill="#a0a0a0"/><rect x="1065" y="1" width="1" height="22" fill="#a0a0a0"/><rect x="1065" y="23" width="26" height="1" fill="#fff"/><rect x="1090" y="1" width="1" height="23" fill="#fff"/></g>
<path d="M16.5,5.5 h7 l3.5,3.5 v9.5 h-10.5 z" fill="#fdfdfd" stroke="#8a8a8a" stroke-width="1"/>
<path d="M23.5,5.5 v3.5 h3.5" fill="#e8e8e8" stroke="#8a8a8a" stroke-width="1"/>
<rect x="18" y="8.5" width="5" height="1" fill="#9a9a9a"/>
<rect x="18" y="11.5" width="5" height="1" fill="#9a9a9a"/>
<rect x="18" y="14.5" width="5" height="1" fill="#9a9a9a"/>
<path d="M23.599999999999998,11.5 h3.2 v3.9 h3.9 v3.2 h-3.9 v3.9 h-3.2 v-3.9 h-3.9 v-3.2 h3.9 z" fill="#22d322" stroke="#0a8f0a" stroke-width="1"/>
<text x="33.5" y="17" font-size="12" fill="#000" stroke="#000" stroke-width="0.25">新订单</text>
<defs><linearGradient id="gy" x1="0" y1="0" x2="1" y2="1"><stop offset="0" stop-color="#fff08a"/><stop offset="0.5" stop-color="#e8b820"/><stop offset="1" stop-color="#b87c08"/></linearGradient><linearGradient id="gr" x1="0" y1="0" x2="0" y2="1"><stop offset="0" stop-color="#ea5535"/><stop offset="1" stop-color="#cf1505"/></linearGradient><linearGradient id="gb" x1="0" y1="0" x2="0" y2="1"><stop offset="0" stop-color="#7ac8ff"/><stop offset="1" stop-color="#1a6ae0"/></linearGradient></defs>
<path d="M87.5,6.2 L97.1,13.1 L97.7,15.3 L90,20.8 L82.2,15 L85.9,11 Z" fill="url(#gy)" stroke="#a86c0c" stroke-width="1.25" stroke-linejoin="round"/>
<path d="M97,14.2 L90.2,19.2 M97.3,15.2 L90.6,20" stroke="#f2e6a8" stroke-width="0.7" fill="none"/>
<path d="M83,15.2 L90,20 " stroke="#f8e070" stroke-width="1.2" fill="none"/>
<path d="M111.9,5.6 L119,5.1 L123.1,6.6 V14.5 H111.9 Z" fill="#0a90ff"/>
<path d="M111.9,5.6 L115.4,7.4 V14.5 H111.9 Z" fill="#0078e8"/>
<path d="M111.9,5.6 L115.4,7.4 V14.5" stroke="#d8f0ff" stroke-width="0.7" fill="none"/>
<rect x="117" y="9.4" width="4.7" height="1.5" fill="#e8f6ff"/>
<defs><linearGradient id="gc" x1="0" y1="0" x2="0" y2="1"><stop offset="0" stop-color="#ffffff"/><stop offset="1" stop-color="#bcc6d8"/></linearGradient></defs>
<path d="M112.5,20.4 C109.6,20.4 109.5,16.4 112.6,16.2 C112.8,14 115.6,13.6 116.6,14.8 C117.6,12.6 121.2,12.8 121.8,15 C123.6,14 125.9,15.2 125.3,17.2 C126.6,18.2 125.8,20.4 124,20.4 Z" fill="url(#gc)" stroke="#3c5c9c" stroke-width="0.9"/>
<defs><linearGradient id="gs" x1="0" y1="0" x2="1" y2="0"><stop offset="0" stop-color="#3a68d8"/><stop offset="0.55" stop-color="#88a8d8"/><stop offset="1" stop-color="#3a78a8"/></linearGradient></defs>
<circle cx="146" cy="12.9" r="7.6" fill="#eaf1ea"/>
<path d="M146,12.9 L146,20.5 A7.6,7.6 0 0 0 151.4,7.5 Z" fill="#7cc47c" opacity="0.7"/>
<circle cx="146" cy="12.9" r="7.5" fill="none" stroke="url(#gs)" stroke-width="1.0" opacity="0.75"/>
<circle cx="146" cy="12.9" r="4.8" fill="none" stroke="url(#gs)" stroke-width="1.0" opacity="0.7"/>
<circle cx="145.8" cy="12.6" r="1.9" fill="#2a58d0"/>
<rect x="145.8" y="13" width="1.3" height="7.8" fill="#18a818"/>
<path d="M165.2,12.3 L181,11.2 L179.5,15 L173.2,20.8 L168,16.5 Z" fill="url(#gy)" stroke="#d0a018" stroke-width="0.7" stroke-linejoin="round"/>
<ellipse cx="173" cy="9.9" rx="7.9" ry="2.5" fill="#5cb0e4" stroke="#2484b4" stroke-width="0.8"/>
<path d="M169.2,9.4 C169.4,3.8 176.4,3.8 176.6,9.4 Z" fill="#78c0ee" stroke="#2484b4" stroke-width="0.8"/>
<circle cx="177.5" cy="16.7" r="4.2" fill="#d42410"/>
<rect x="176" y="15.2" width="3" height="2.9" fill="#fff"/>
<text x="186.5" y="17" font-size="12" fill="#000" stroke="#000" stroke-width="0.25">自动交易</text>
<path d="M259.5,7.5 V21 M257,18.5 H270.5" stroke="#555" stroke-width="1.2" fill="none"/>
<path d="M257.6,9.6 L259.5,7 L261.4,9.6 Z M268.5,16.6 L271.2,18.5 L268.5,20.4 Z" fill="#555"/>
<path d="M265.8,8.5 V16.2 M265.8,9.3 H268.2 M263.4,15.4 H265.8" stroke="#1a8a1a" stroke-width="1.3" fill="none"/>
<path d="M287.5,7.5 V21 M285,18.5 H298.5" stroke="#555" stroke-width="1.2" fill="none"/>
<path d="M285.6,9.6 L287.5,7 L289.4,9.6 Z M296.5,16.6 L299.2,18.5 L296.5,20.4 Z" fill="#555"/>
<rect x="293.1" y="5" width="1.1" height="11.6" fill="#0a8a0a"/>
<rect x="291.2" y="7.2" width="5" height="7.4" fill="#5ee85e" stroke="#0a8a0a" stroke-width="1"/>
<path d="M315.5,7.5 V21 M313,18.5 H326.5" stroke="#555" stroke-width="1.2" fill="none"/>
<path d="M313.6,9.6 L315.5,7 L317.4,9.6 Z M324.5,16.6 L327.2,18.5 L324.5,20.4 Z" fill="#555"/>
<path d="M314.2,15.8 C317,13.5 318.5,10.2 320.6,10.4 C322.5,10.6 324,13.5 326,14.4" stroke="#3a9a3a" stroke-width="1.2" fill="none"/>
<path d="M355.2,15.200000000000001 L360.2,19.6" stroke="#c8a020" stroke-width="2.6" stroke-linecap="round"/>
<circle cx="351.2" cy="10.8" r="5.4" fill="#dcecfa" stroke="#3a78d8" stroke-width="1.3"/>
<rect x="348.2" y="10.0" width="6" height="1.6" fill="#3a88b8"/>
<rect x="350.4" y="7.800000000000001" width="1.6" height="6" fill="#3a88b8"/>
<path d="M383.2,15.200000000000001 L388.2,19.6" stroke="#c8a020" stroke-width="2.6" stroke-linecap="round"/>
<circle cx="379.2" cy="10.8" r="5.4" fill="#dcecfa" stroke="#3a78d8" stroke-width="1.3"/>
<rect x="376.2" y="10.0" width="6" height="1.6" fill="#3a88b8"/>
<rect x="401" y="5" width="8" height="8" fill="#3aa020"/>
<rect x="402.5" y="8.5" width="5" height="3" fill="#eef4ee"/>
<rect x="402" y="6" width="1" height="1" fill="#fff"/>
<rect x="409" y="5" width="8" height="8" fill="#2858d8"/>
<rect x="410.5" y="8.5" width="5" height="3" fill="#eef4ee"/>
<rect x="410" y="6" width="1" height="1" fill="#fff"/>
<rect x="401" y="13" width="8" height="8" fill="#2858d8"/>
<rect x="402.5" y="16.5" width="5" height="3" fill="#eef4ee"/>
<rect x="402" y="14" width="1" height="1" fill="#fff"/>
<rect x="409" y="13" width="8" height="8" fill="#3aa020"/>
<rect x="410.5" y="16.5" width="5" height="3" fill="#eef4ee"/>
<rect x="410" y="14" width="1" height="1" fill="#fff"/>
<path d="M439.5,7.5 V21 M437,18.5 H450.5" stroke="#555" stroke-width="1.2" fill="none"/>
<path d="M437.6,9.6 L439.5,7 L441.4,9.6 Z M448.5,16.6 L451.2,18.5 L448.5,20.4 Z" fill="#555"/>
<path d="M444.2,9.2 L448.2,12.5 L444.2,15.8 Z" fill="#38c838" stroke="#189818" stroke-width="0.8"/>
<path d="M467.5,7.5 V21 M465,18.5 H478.5" stroke="#555" stroke-width="1.2" fill="none"/>
<path d="M465.6,9.6 L467.5,7 L469.4,9.6 Z M476.5,16.6 L479.2,18.5 L476.5,20.4 Z" fill="#555"/>
<rect x="473.1" y="7" width="1.2" height="9.6" fill="#1a78b8"/>
<path d="M475,12.3 L477.6,10 V11.7 H479.4 V12.9 H477.6 V14.6 Z" fill="#d84818"/>
<path d="M499.5,5.5 h7 l3.5,3.5 v9.5 h-10.5 z" fill="#fdfdfd" stroke="#8a8a8a" stroke-width="1"/>
<path d="M506.5,5.5 v3.5 h3.5" fill="#e8e8e8" stroke="#8a8a8a" stroke-width="1"/>
<text x="501" y="15" font-size="9" font-style="italic" fill="#555">f</text>
<path d="M506.59999999999997,11.5 h3.2 v3.9 h3.9 v3.2 h-3.9 v3.9 h-3.2 v-3.9 h-3.9 v-3.2 h3.9 z" fill="#22d322" stroke="#0a8f0a" stroke-width="1"/>
<path d="M519.8000000000001,12 h5.6 l-2.8,3 z" fill="#000"/>
<circle cx="544" cy="13" r="7.2" fill="#f4f8fc" stroke="url(#gb)" stroke-width="2"/>
<circle cx="544" cy="13" r="7.2" fill="none" stroke="#1a62d0" stroke-width="1.8"/>
<path d="M544,8.8 V13 H547" stroke="#333" stroke-width="1" fill="none"/>
<path d="M558.8000000000001,12 h5.6 l-2.8,3 z" fill="#000"/>
<rect x="575.6" y="6.4" width="15.2" height="13.2" fill="#fff" stroke="#3a70c8" stroke-width="1"/>
<rect x="575.6" y="6.4" width="15.2" height="2" fill="#5a98e8"/>
<rect x="575.6" y="13.6" width="15.2" height="1" fill="#3a70c8"/>
<path d="M577.5,12 l2.5,-1 l2.5,-0.8 l2.5,0.8 l3,-1.4" stroke="#a82010" stroke-width="1.1" fill="none"/>
<path d="M577.5,17.8 l2.5,-0.8 l2.5,0.6 l3,-2 l2.6,2.2" stroke="#189818" stroke-width="1.1" fill="none"/>
<path d="M597.8000000000001,12 h5.6 l-2.8,3 z" fill="#000"/>
<path d="M627.1,5.8 V16.9 L629.7,14.7 L632,19.9 L633.8,19.1 L631.5,14.1 L635,13.8 Z" fill="#4a4a4a"/>
<path d="M652,13.5 H658 M661,13.5 H667 M659.5,6 V12 M659.5,15 V21" stroke="#444" stroke-width="1.1" fill="none"/>
<path d="M693.6,7 V20" stroke="#444" stroke-width="1.1"/>
<path d="M716,13.5 H728" stroke="#444" stroke-width="1.1"/>
<path d="M743.8,19.8 L756,7.7" stroke="#444" stroke-width="1.1"/>
<path d="M770,14.6 L778.2,7.2 M775,19.6 L784.2,11.5 M772,17 L773.5,11.5 L776,16.5 L777.5,9.5 L780,14.5 L781.5,5.5" stroke="#444" stroke-width="0.9" fill="none"/>
<text x="780.6" y="21.8" font-size="6.5" font-weight="bold" fill="#444">E</text>
<path d="M799.2,6.5 H812" stroke="#444" stroke-width="1" stroke-dasharray="1 1"/>
<path d="M799.2,9.6 H812" stroke="#444" stroke-width="1" stroke-dasharray="1 1"/>
<path d="M799.2,13.7 H812" stroke="#444" stroke-width="1" stroke-dasharray="1 1"/>
<path d="M799.2,17.7 H808" stroke="#444" stroke-width="1" stroke-dasharray="1 1"/>
<text x="809" y="21.8" font-size="6.5" font-weight="bold" fill="#444">F</text>
<text x="833.9" y="17.8" font-size="12" text-anchor="middle" fill="#555" stroke="#555" stroke-width="0.3">A</text>
<rect x="856.3" y="7.5" width="11.4" height="12" fill="none" stroke="#444" stroke-width="1" stroke-dasharray="1 1"/>
<text transform="translate(862,17.5) scale(1.15,1)" font-size="10" font-weight="bold" text-anchor="middle" fill="#555">T</text>
<path d="M886.5,6.8 L890,10 L886.5,11.8 L883,10 Z" fill="#555"/>
<path d="M893.6,19.8 L897,16.6 L893.6,15 L890.2,16.6 Z" fill="#555"/>
<path d="M885.5,13.8 L887.6,15.8 L891.8,11.6" stroke="#555" stroke-width="1.3" fill="none"/>
<path d="M903.7,12 h5.6 l-2.8,3 z" fill="#000"/>
<text transform="translate(937.2,17) scale(0.95,1)" font-size="10" text-anchor="middle" fill="#3c3c3c">M1</text>
<text transform="translate(964.6,17) scale(0.95,1)" font-size="10" text-anchor="middle" fill="#3c3c3c">M5</text>
<text transform="translate(993.3,17) scale(0.95,1)" font-size="10" text-anchor="middle" fill="#3c3c3c">M15</text>
<text transform="translate(1021.4,17) scale(0.95,1)" font-size="10" text-anchor="middle" fill="#3c3c3c">M30</text>
<text transform="translate(1049.5,17) scale(0.95,1)" font-size="10" text-anchor="middle" fill="#3c3c3c">H1</text>
<text transform="translate(1076.8,17) scale(0.95,1)" font-size="10" text-anchor="middle" fill="#3c3c3c">H4</text>
<text transform="translate(1105.3,17) scale(0.95,1)" font-size="10" text-anchor="middle" fill="#3c3c3c">D1</text>
<text transform="translate(1134.2,17) scale(0.95,1)" font-size="10" text-anchor="middle" fill="#3c3c3c">W1</text>
<text transform="translate(1161,17) scale(0.95,1)" font-size="10" text-anchor="middle" fill="#3c3c3c">MN</text>
<path d="M1643.4,13.8 L1639.4,17.6" stroke="#2a5fd0" stroke-width="2.4" stroke-linecap="round"/>
<circle cx="1646.6" cy="10.3" r="3.9" fill="#f6f8ff" stroke="#2a5fd0" stroke-width="1.3"/>
<path d="M1666.5,21.6 L1666.2,19.4 A4.8,4.4 0 1 1 1669,19.8 Z" fill="#e8eaf2" stroke="#b0b0b0" stroke-width="0.8"/>
<circle cx="1677.4" cy="10.8" r="8.2" fill="url(#gr)"/>
<text x="1676.6" y="15" font-size="12.5" text-anchor="middle" fill="#fff" stroke="#fff" stroke-width="0.35">1</text>
</g>
</svg>
</body></html>
